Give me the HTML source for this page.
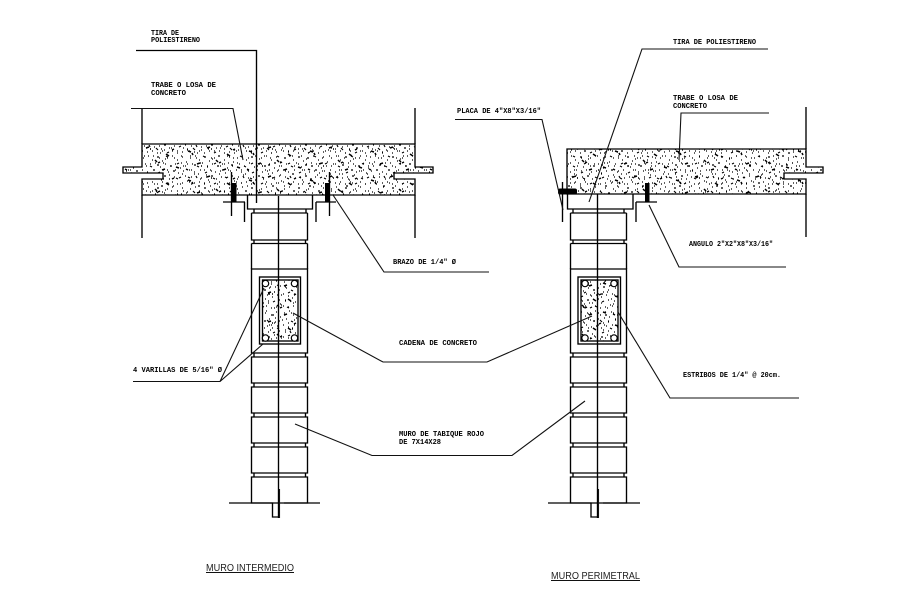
<!DOCTYPE html>
<html><head><meta charset="utf-8"><style>
html,body{margin:0;padding:0;background:#fff;width:909px;height:592px;overflow:hidden}
svg{display:block}
text{font-family:"Liberation Mono",monospace;font-size:7.4px;font-weight:bold;fill:#000}
.t{font-family:"Liberation Sans",sans-serif;font-size:10.5px;font-weight:normal;fill:#222}
.l{fill:none;stroke:#000;stroke-width:1.35}
.n{fill:none;stroke:#111;stroke-width:1.1}
</style></head><body>
<svg width="909" height="592" viewBox="0 0 909 592" xmlns="http://www.w3.org/2000/svg">
<defs>
<pattern id="a" width="47" height="31" patternUnits="userSpaceOnUse">
<path stroke="#000" stroke-width="1.15" fill="none" d="M2 3h1M7 1h1M11 5h1M16 2h2M21 6h1M26 3h1M31 1h1M36 5h1M41 2h1M45 7h1M4 9h1M9 11l2 1M14 8h1M19 12h1M24 9h1M29 11h2M34 9h1M39 13h1M44 11h1M1 15h1M6 17h1M12 15h1M17 18l2-1M22 15h1M27 17h1M32 16h1M37 18h1M42 16h1M3 22h1M8 21l1 2M13 23h1M18 22h1M23 21h2M28 24h1M33 22h1M38 23l2-1M44 21h1M1 27h1M6 28h1M11 27h1M16 29h1M21 27h1M26 29l2-1M31 27h1M36 29h1M41 28h1M46 26h1M24 4h1M34 15h1M10 19h1M20 25h1M40 8h1"/>
</pattern>
<pattern id="b" width="37" height="43" patternUnits="userSpaceOnUse">
<path stroke="#000" stroke-width="1.15" fill="none" d="M3 5l2 1M9 2h1M15 7h1M21 3h1M28 6l2 1M34 2h1M6 12h1M13 14h2M19 11h1M25 14h1M32 12h1M2 20h1M8 19l2 2M16 21h1M23 19h1M29 22h1M35 19h1M5 27h1M11 29h1M18 27l2 1M26 29h1M33 27h1M2 35h1M9 36h2M15 34h1M22 37h1M29 35l2-1M35 37h1M6 41h1M19 41h1M26 42h1M12 24h1"/>
</pattern>
<pattern id="c" width="61" height="29" patternUnits="userSpaceOnUse">
<path stroke="#000" stroke-width="1.5" fill="none" d="M5 6l3 1M9 8l1 2M24 3l3-1M28 4h1M44 9l3 2M50 5l2-1M14 19l3-1M18 21h1M33 15l2 2M36 18l2-1M54 22l3 1M40 25l3-1M3 24l2 1"/>
</pattern>
</defs>
<rect width="909" height="592" fill="#fff"/>

<!-- LEFT slab -->
<path d="M142 144H415V167H433V173H394V179H415V195H142V179H163V173H123V167H142Z" fill="#fff"/>
<path d="M142 144H415V167H433V173H394V179H415V195H142V179H163V173H123V167H142Z" fill="url(#a)"/>
<path d="M142 144H415V167H433V173H394V179H415V195H142V179H163V173H123V167H142Z" fill="url(#b)"/>
<path d="M142 144H415V167H433V173H394V179H415V195H142V179H163V173H123V167H142Z" fill="url(#c)"/>
<path class="l" d="M142 144H415V167H433V173H394V179H415V195H142V179H163V173H123V167H142Z"/>
<path class="l" d="M142 108V144M142 195V238M415 108V144M415 195V238"/>

<!-- LEFT wall -->
<path class="l" d="M247.500 195.500V209H312.500V195.500"/>
<path class="l" d="M254 209V212.500M306 209V212.500M251.500 213H307.500M251.500 213V240H307.500V213M254 240V243M305.500 240V243M251.500 243.500H307.500M251.500 243.500V269M307.500 243.500V269"/>
<path class="l" d="M251.500 269H307.500V353H251.500Z"/>
<path class="l" d="M251.500 357H307.500V383H251.500ZM251.500 387H307.500V413H251.500ZM251.500 417H307.500V443H251.500ZM251.500 447H307.500V473H251.500ZM251.500 477H307.500V503H251.500Z"/>
<path class="l" d="M254 353V357M305.500 353V357M254 383V387M305.500 383V387M254 413V417M305.500 413V417M254 443V447M305.500 443V447M254 473V477M305.500 473V477"/>
<path class="l" d="M229 503H272.500V517H278M284 503H320"/>
<!-- LEFT column -->
<rect x="259.500" y="277" width="41" height="67" fill="#fff"/>
<rect x="262.500" y="280" width="35.500" height="61" fill="url(#a)"/>
<rect x="262.500" y="280" width="35.500" height="61" fill="url(#b)"/>
<rect x="262.500" y="280" width="35.500" height="61" fill="url(#c)"/>
<rect class="l" x="259.500" y="277" width="41" height="67"/>
<rect class="l" x="262.500" y="280" width="35.500" height="61"/>
<g fill="#fff" stroke="#000" stroke-width="1.2"><circle cx="265.500" cy="283.500" r="3.200"/><circle cx="294.500" cy="283.500" r="3.200"/><circle cx="265.500" cy="338" r="3.200"/><circle cx="294.500" cy="338" r="3.200"/></g>
<path class="l" d="M278.500 196V518"/><path class="n" d="M279.500 489V518"/>
<!-- LEFT hardware -->
<path class="l" d="M231.500 172V216M223 202H245M244.500 202V222M329.500 172V216M316 202H336M316 202V222"/>
<rect x="231.500" y="183" width="5" height="19" fill="#000"/>
<rect x="325" y="183" width="5" height="19" fill="#000"/>

<!-- RIGHT slab -->
<path d="M567 149H806V167H823V173H784V179H806V194H567Z" fill="#fff"/>
<path d="M567 149H806V167H823V173H784V179H806V194H567Z" fill="url(#a)"/>
<path d="M567 149H806V167H823V173H784V179H806V194H567Z" fill="url(#b)"/>
<path d="M567 149H806V167H823V173H784V179H806V194H567Z" fill="url(#c)"/>
<path class="l" d="M567 149H806V167H823V173H784V179H806V194H567Z"/>
<path class="l" d="M806 107V149M806 194V237"/>
<!-- RIGHT wall -->
<path class="l" d="M567.500 194V209H633V194"/>
<path class="l" d="M573 209V212.500M624 209V212.500M570.500 213H626.500M570.500 213V240H626.500V213M573 240V243M624 240V243M570.500 243.500H626.500M570.500 243.500V269M626.500 243.500V269"/>
<path class="l" d="M570.500 269H626.500V353H570.500Z"/>
<path class="l" d="M570.500 357H626.500V383H570.500ZM570.500 387H626.500V413H570.500ZM570.500 417H626.500V443H570.500ZM570.500 447H626.500V473H570.500ZM570.500 477H626.500V503H570.500Z"/>
<path class="l" d="M573 353V357M624 353V357M573 383V387M624 383V387M573 413V417M624 413V417M573 443V447M624 443V447M573 473V477M624 473V477"/>
<path class="l" d="M548 503H591V517H597M603 503H640"/>
<!-- RIGHT column -->
<rect x="578" y="277" width="42.500" height="67" fill="#fff"/>
<rect x="581" y="280" width="37" height="61" fill="url(#a)"/>
<rect x="581" y="280" width="37" height="61" fill="url(#b)"/>
<rect x="581" y="280" width="37" height="61" fill="url(#c)"/>
<rect class="l" x="578" y="277" width="42.500" height="67"/>
<rect class="l" x="581" y="280" width="37" height="61"/>
<g fill="#fff" stroke="#000" stroke-width="1.2"><circle cx="585" cy="283.500" r="3.200"/><circle cx="614" cy="283.500" r="3.200"/><circle cx="585" cy="338" r="3.200"/><circle cx="614" cy="338" r="3.200"/></g>
<path class="l" d="M597.500 194V518"/><path class="n" d="M598.500 489V518"/>
<!-- RIGHT hardware -->
<path class="l" d="M562.500 182V222M636 202H657M636 202V222"/>
<rect x="558" y="188.500" width="19" height="6" rx="2" fill="#000"/>
<rect x="645" y="183" width="4.500" height="19" fill="#000"/>

<!-- leaders -->
<path class="l" d="M136 50.500H256.500V203"/>
<path class="n" d="M131 108.500H233L243 160"/>
<path class="n" d="M333 195L384 272H489"/>
<path class="n" d="M133 381.500H220L264 288M220 381.500L263 344"/>
<path class="n" d="M293 313L383 362H487L592 316"/>
<path class="n" d="M295 424L372 455.500H512L585 401"/>
<path class="n" d="M618 312L670 398H799"/>
<path class="n" d="M768 49H642L589 202"/>
<path class="n" d="M769 113H681L679 160"/>
<path class="n" d="M455 119.500H542L563 210"/>
<path class="n" d="M649 205L679 267H786"/>

<!-- labels -->
<text x="151" y="35" textLength="28" lengthAdjust="spacingAndGlyphs">TIRA DE</text>
<text x="151" y="42" textLength="49" lengthAdjust="spacingAndGlyphs">POLIESTIRENO</text>
<text x="151" y="87" textLength="65" lengthAdjust="spacingAndGlyphs">TRABE O LOSA DE</text>
<text x="151" y="95" textLength="35" lengthAdjust="spacingAndGlyphs">CONCRETO</text>
<text x="393" y="264" textLength="63" lengthAdjust="spacingAndGlyphs">BRAZO DE 1/4" Ø</text>
<text x="133" y="372" textLength="89" lengthAdjust="spacingAndGlyphs">4 VARILLAS DE 5/16" Ø</text>
<text x="399" y="345" textLength="78" lengthAdjust="spacingAndGlyphs">CADENA DE CONCRETO</text>
<text x="399" y="436" textLength="85" lengthAdjust="spacingAndGlyphs">MURO DE TABIQUE ROJO</text>
<text x="399" y="444" textLength="42" lengthAdjust="spacingAndGlyphs">DE 7X14X28</text>
<text x="673" y="44" textLength="83" lengthAdjust="spacingAndGlyphs">TIRA DE POLIESTIRENO</text>
<text x="673" y="100" textLength="65" lengthAdjust="spacingAndGlyphs">TRABE O LOSA DE</text>
<text x="673" y="108" textLength="34" lengthAdjust="spacingAndGlyphs">CONCRETO</text>
<text x="457" y="113" textLength="84" lengthAdjust="spacingAndGlyphs">PLACA DE 4"X8"X3/16"</text>
<text x="689" y="246" textLength="84" lengthAdjust="spacingAndGlyphs">ANGULO 2"X2"X8"X3/16"</text>
<text x="683" y="377" textLength="98" lengthAdjust="spacingAndGlyphs">ESTRIBOS DE 1/4" @ 20cm.</text>
<text class="t" x="206" y="571" textLength="88" lengthAdjust="spacingAndGlyphs">MURO INTERMEDIO</text>
<path class="n" d="M206 572.500H294"/>
<text class="t" x="551" y="579" textLength="89" lengthAdjust="spacingAndGlyphs">MURO PERIMETRAL</text>
<path class="n" d="M551 580.500H640"/>
</svg>
</body></html>
